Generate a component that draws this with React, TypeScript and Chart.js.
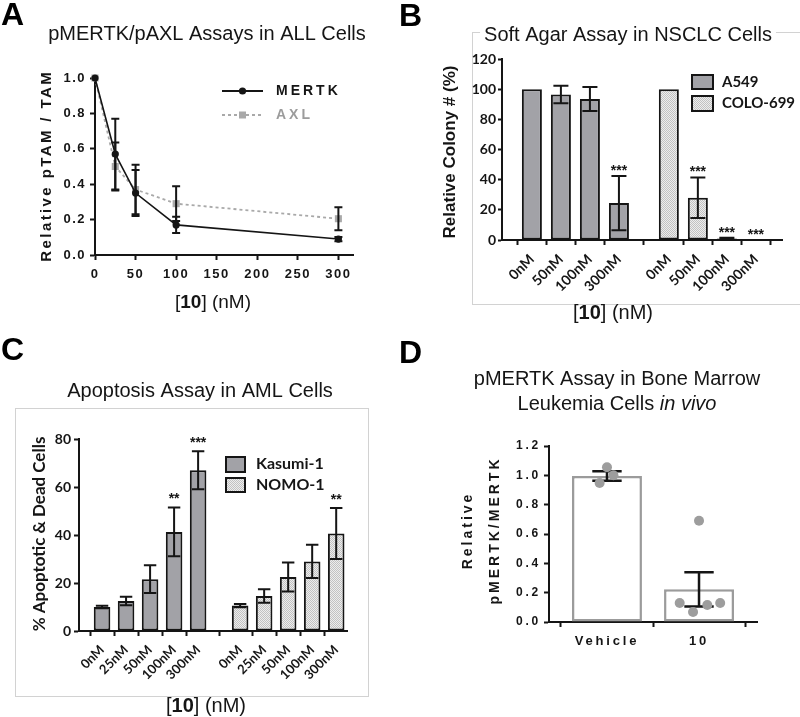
import React, { useEffect, useRef } from 'react';
import { Chart, registerables } from 'chart.js';

Chart.register(...registerables);

// ---------------- Panel A : pMERTK / pAXL
const aDoses = [0, 25, 50, 100, 300];
const aSeries = ['MERTK', 'AXL'];
const aMertk = [1.0, 0.57, 0.35, 0.17, 0.09];
const aMertkErr = [0, 0.2, 0.13, 0.046, 0.012];
const aAxl = [1.0, 0.5, 0.37, 0.29, 0.205];
const aAxlErr = [0, 0.135, 0.14, 0.098, 0.065];

// ---------------- Panel B : soft agar
const bDoses = ['0nM', '50nM', '100nM', '300nM'];
const bCells = ['A549', 'COLO-699'];
const bA549 = [100, 96.5, 93.5, 24.5];
const bA549Err = [0, 5.8, 8, 18];
const bA549Sig = ['', '', '', '***'];
const bColo = [100, 28, 1, 0];
const bColoErr = [0, 13.4, 0.5, 0];
const bColoSig = ['', '***', '***', '***'];

// ---------------- Panel C : apoptosis
const cDoses = ['0nM', '25nM', '50nM', '100nM', '300nM'];
const cCells = ['Kasumi-1', 'NOMO-1'];
const cKasumi = [10, 12.5, 21.6, 41.3, 67];
const cKasumiErr = [0.5, 1.8, 5.8, 10.2, 7.9];
const cKasumiSig = ['', '', '', '**', '***'];
const cNomo = [10.6, 14.6, 22.5, 29, 40.6];
const cNomoErr = [0.7, 2.8, 6, 6.9, 10.6];
const cNomoSig = ['', '', '', '', '**'];

// ---------------- Panel D : in vivo
const dGroups = ['Vehicle', '10'];
const dMeans = [0.995, 0.223];
const dSem = [0.032, 0.117];
const dVehiclePts = [1.055, 1.0, 0.948];
const dVehicleJitter = [0, 0.07, -0.08];
const d10Pts = [0.69, 0.13, 0.068, 0.116, 0.13];
const d10Jitter = [0, -0.21, -0.065, 0.09, 0.23];

// ---------------- styling
const ARIAL = '"Liberation Sans", Arial, Helvetica, sans-serif';
const LATO = 'Lato, "Liberation Sans", Arial, sans-serif';
const INK = '#151515';
const BAR_GRAY = '#a2a2a7';
const AXL_GRAY = '#a9a9a9';
const DOT_GRAY = '#9d9d9d';
const fnt = (style: string, size: number, fam: string) => `${style} ${size}px ${fam}`;

function makeDots(): CanvasPattern | string {
  const c = document.createElement('canvas');
  c.width = 2;
  c.height = 2;
  const g = c.getContext('2d');
  if (!g) return '#d8d8d8';
  g.fillStyle = '#ededed';
  g.fillRect(0, 0, 2, 2);
  g.fillStyle = '#c2c2c2';
  g.fillRect(0, 0, 1, 1);
  g.fillRect(1, 1, 1, 1);
  return g.createPattern(c, 'repeat') || '#d8d8d8';
}

// ---------------- plugins
type Part = { t: string; f: string; c?: string };
type TextItem = { x: number; y: number; rot?: number; sp?: number; bg?: string; parts: Part[] };

function textsPlugin(items: TextItem[]) {
  return {
    id: 'panelTexts',
    afterDraw(chart: any) {
      const ctx = chart.ctx;
      for (const it of items) {
        ctx.save();
        ctx.translate(it.x, it.y);
        if (it.rot) ctx.rotate(it.rot);
        ctx.textBaseline = 'middle';
        ctx.textAlign = 'left';
        ctx.letterSpacing = (it.sp || 0) + 'px';
        const ws = it.parts.map((p) => {
          ctx.font = p.f;
          return ctx.measureText(p.t).width;
        });
        const total = ws.reduce((a, b) => a + b, 0) - (it.sp || 0);
        let x = -total / 2;
        if (it.bg) {
          ctx.fillStyle = it.bg;
          ctx.fillRect(x - 4, -12, total + 8, 24);
        }
        it.parts.forEach((p, i) => {
          ctx.font = p.f;
          ctx.fillStyle = p.c || INK;
          ctx.fillText(p.t, x, 0);
          x += ws[i];
        });
        ctx.restore();
      }
    },
  };
}

function spacingPlugin(px: number) {
  return {
    id: 'tickSpacing',
    beforeDraw(chart: any) {
      chart.ctx.letterSpacing = px + 'px';
    },
    afterDraw(chart: any) {
      chart.ctx.letterSpacing = '0px';
    },
  };
}

type ErrSet = {
  ds: number;
  err: number[];
  capPx?: number;
  capRatio?: number;
  lw: number;
  color: string;
  sig?: string[];
  sigFont?: string;
  sigOff?: number;
};

// error bars are drawn right after their own dataset, so later datasets sit on top
function errorBarsPlugin(sets: ErrSet[]) {
  return {
    id: 'errorBars',
    afterDatasetDraw(chart: any, args: any) {
      const ctx = chart.ctx;
      const ys = chart.scales.y;
      for (const s of sets) {
        if (s.ds !== args.index) continue;
        const meta = chart.getDatasetMeta(s.ds);
        const data = chart.data.datasets[s.ds].data;
        meta.data.forEach((el: any, i: number) => {
          const d = data[i];
          const v = typeof d === 'number' ? d : d.y;
          const e = s.err[i] || 0;
          const x = el.x;
          const yTop = ys.getPixelForValue(v + e);
          if (e > 0) {
            const yBot = ys.getPixelForValue(v - e);
            const half = (s.capRatio ? el.width * s.capRatio : s.capPx || 8) / 2;
            ctx.save();
            ctx.strokeStyle = s.color;
            ctx.lineWidth = s.lw;
            ctx.beginPath();
            ctx.moveTo(x, yTop);
            ctx.lineTo(x, yBot);
            ctx.moveTo(x - half, yTop);
            ctx.lineTo(x + half, yTop);
            ctx.moveTo(x - half, yBot);
            ctx.lineTo(x + half, yBot);
            ctx.stroke();
            ctx.restore();
          }
          const label = s.sig ? s.sig[i] : '';
          if (label) {
            ctx.save();
            ctx.letterSpacing = '0px';
            ctx.font = s.sigFont;
            ctx.fillStyle = INK;
            ctx.textAlign = 'center';
            ctx.textBaseline = 'middle';
            ctx.fillText(label, x, yTop - (s.sigOff || 8));
            ctx.restore();
          }
        });
      }
    },
  };
}

function legendPlugin(items: any[]) {
  return {
    id: 'panelLegend',
    afterDraw(chart: any) {
      const ctx = chart.ctx;
      for (const it of items) {
        ctx.save();
        ctx.letterSpacing = '0px';
        if (it.kind === 'line') {
          ctx.strokeStyle = it.color;
          ctx.lineWidth = it.lw;
          ctx.setLineDash(it.dash);
          ctx.beginPath();
          ctx.moveTo(it.x1, it.y);
          ctx.lineTo(it.x2, it.y);
          ctx.stroke();
          ctx.setLineDash([]);
          ctx.fillStyle = it.color;
          const cx = (it.x1 + it.x2) / 2;
          if (it.marker === 'circle') {
            ctx.beginPath();
            ctx.arc(cx, it.y, it.mr, 0, Math.PI * 2);
            ctx.fill();
          } else {
            ctx.fillRect(cx - it.mr, it.y - it.mr, it.mr * 2, it.mr * 2);
          }
        } else {
          ctx.fillStyle = it.fill;
          ctx.fillRect(it.x, it.y, it.w, it.h);
          ctx.strokeStyle = it.stroke;
          ctx.lineWidth = it.lw;
          ctx.strokeRect(it.x, it.y, it.w, it.h);
        }
        ctx.letterSpacing = (it.sp || 0) + 'px';
        ctx.font = it.font;
        ctx.fillStyle = it.tc;
        ctx.textAlign = 'left';
        ctx.textBaseline = 'middle';
        ctx.fillText(it.text, it.tx, it.ty);
        ctx.restore();
      }
    },
  };
}

// ---------------- shared axis pieces
const gridOpts = (len: number) => ({
  drawOnChartArea: false,
  drawTicks: true,
  tickLength: len,
  tickColor: INK,
  tickWidth: 2,
});
const borderOpts = { display: true, color: INK, width: 2 };
const baseOptions = {
  responsive: false,
  animation: false,
  events: [],
  plugins: { legend: { display: false }, tooltip: { enabled: false }, title: { display: false } },
};
const STAR_FONT = fnt('bold', 14, ARIAL);

// ---------------- chart configs
function configA(): any {
  return {
    type: 'line',
    data: {
      datasets: [
        {
          label: aSeries[0],
          data: aDoses.map((x, i) => ({ x, y: aMertk[i] })),
          borderColor: INK,
          backgroundColor: INK,
          borderWidth: 1.6,
          pointStyle: 'circle',
          pointRadius: 3.6,
          pointBackgroundColor: INK,
          pointBorderColor: INK,
          pointBorderWidth: 0,
          tension: 0,
          clip: false,
        },
        {
          label: aSeries[1],
          data: aDoses.map((x, i) => ({ x, y: aAxl[i] })),
          borderColor: AXL_GRAY,
          backgroundColor: AXL_GRAY,
          borderWidth: 1.8,
          borderDash: [3, 3],
          pointStyle: 'rect',
          pointRadius: 5,
          pointBackgroundColor: AXL_GRAY,
          pointBorderColor: AXL_GRAY,
          pointBorderWidth: 0,
          tension: 0,
          clip: false,
        },
      ],
    },
    options: {
      ...baseOptions,
      layout: { padding: { left: 0, top: 78, right: 47, bottom: 0 } },
      scales: {
        x: {
          type: 'linear',
          min: 0,
          max: 318,
          ticks: {
            stepSize: 50,
            includeBounds: false,
            color: INK,
            font: { family: ARIAL, size: 13, weight: 'bold' },
            padding: 7,
            maxRotation: 0,
          },
          grid: gridOpts(5),
          border: borderOpts,
          afterFit: (s: any) => {
            s.height = 75;
          },
        },
        y: {
          min: 0,
          max: 1,
          ticks: {
            stepSize: 0.2,
            callback: (v: any) => Number(v).toFixed(1),
            color: INK,
            font: { family: ARIAL, size: 13, weight: 'bold' },
            padding: 4,
          },
          grid: gridOpts(5),
          border: borderOpts,
          afterFit: (s: any) => {
            s.width = 95;
          },
        },
      },
    },
    plugins: [
      spacingPlugin(1.5),
      errorBarsPlugin([
        { ds: 0, err: aMertkErr, capPx: 8, lw: 2, color: INK },
        { ds: 1, err: aAxlErr, capPx: 8, lw: 2, color: INK },
      ]),
      legendPlugin([
        { kind: 'line', x1: 222, x2: 263, y: 91, color: INK, lw: 2, dash: [], marker: 'circle', mr: 3.6, text: aSeries[0], tx: 276, ty: 91, font: fnt('bold', 14, ARIAL), tc: INK, sp: 3 },
        { kind: 'line', x1: 222, x2: 263, y: 115, color: AXL_GRAY, lw: 1.8, dash: [3, 3], marker: 'rect', mr: 3.5, text: aSeries[1], tx: 276, ty: 115, font: fnt('bold', 14, ARIAL), tc: '#9c9c9c', sp: 3 },
      ]),
      textsPlugin([
        { x: 207, y: 34, parts: [{ t: 'pMERTK/pAXL Assays in ALL Cells', f: fnt('normal', 20, ARIAL) }] },
        { x: 47, y: 167, rot: -Math.PI / 2, sp: 2.4, parts: [{ t: 'Relative pTAM / TAM', f: fnt('bold', 15, ARIAL) }] },
        {
          x: 213,
          y: 303,
          parts: [
            { t: '[', f: fnt('normal', 19, ARIAL) },
            { t: '10', f: fnt('bold', 19, ARIAL) },
            { t: '] (nM)', f: fnt('normal', 19, ARIAL) },
          ],
        },
      ]),
    ],
  };
}

function groupedBarConfig(opts: {
  doses: string[];
  gap: number;
  s1: number[];
  s2: number[];
  e1: number[];
  e2: number[];
  sig1: string[];
  sig2: string[];
  names: string[];
  dots: any;
  xmin: number;
  xmax: number;
  ymax: number;
  pad: any;
  yWidth: number;
  xHeight: number;
  tickSize: number;
  xTickSize: number;
  yTickLen: number;
  yTickPad: number;
  sigOff: number;
  legend: any[];
  texts: TextItem[];
}): any {
  const n = opts.doses.length;
  const xPos = (g: number, i: number) => g * (n + opts.gap) + i;
  const ticksAt = [...opts.doses.map((_, i) => xPos(0, i)), ...opts.doses.map((_, i) => xPos(1, i))];
  const tickLabels = [...opts.doses, ...opts.doses];
  const common = {
    borderColor: INK,
    borderWidth: 2,
    borderSkipped: false,
    grouped: false,
    barPercentage: 0.69,
    categoryPercentage: 1,
  };
  return {
    type: 'bar',
    data: {
      datasets: [
        { ...common, label: opts.names[0], data: opts.s1.map((y, i) => ({ x: xPos(0, i), y })), backgroundColor: BAR_GRAY },
        { ...common, label: opts.names[1], data: opts.s2.map((y, i) => ({ x: xPos(1, i), y })), backgroundColor: opts.dots },
      ],
    },
    options: {
      ...baseOptions,
      layout: { padding: opts.pad },
      scales: {
        x: {
          type: 'linear',
          min: opts.xmin,
          max: opts.xmax,
          offset: false,
          bounds: 'data',
          afterBuildTicks: (s: any) => {
            s.ticks = ticksAt.map((value) => ({ value }));
          },
          ticks: {
            autoSkip: false,
            minRotation: 45,
            maxRotation: 45,
            callback: (_v: any, i: number) => tickLabels[i],
            color: INK,
            font: { family: LATO, size: opts.xTickSize, weight: 'bold' },
            padding: 6,
          },
          grid: gridOpts(5),
          border: borderOpts,
          afterFit: (s: any) => {
            s.height = opts.xHeight;
          },
        },
        y: {
          min: 0,
          max: opts.ymax,
          ticks: {
            stepSize: 20,
            color: INK,
            font: { family: LATO, size: opts.tickSize, weight: 'bold' },
            padding: opts.yTickPad,
          },
          grid: gridOpts(opts.yTickLen),
          border: borderOpts,
          afterFit: (s: any) => {
            s.width = opts.yWidth;
          },
        },
      },
    },
    plugins: [
      errorBarsPlugin([
        { ds: 0, err: opts.e1, capRatio: 0.75, lw: 2, color: INK, sig: opts.sig1, sigFont: STAR_FONT, sigOff: opts.sigOff },
        { ds: 1, err: opts.e2, capRatio: 0.75, lw: 2, color: INK, sig: opts.sig2, sigFont: STAR_FONT, sigOff: opts.sigOff },
      ]),
      legendPlugin(opts.legend),
      textsPlugin(opts.texts),
    ],
  };
}

const nmTitle = (x: number, y: number, size: number): TextItem => ({
  x,
  y,
  parts: [
    { t: '[', f: fnt('normal', size, ARIAL) },
    { t: '10', f: fnt('bold', size, ARIAL) },
    { t: '] (nM)', f: fnt('normal', size, ARIAL) },
  ],
});

function configB(dots: any): any {
  return groupedBarConfig({
    doses: bDoses,
    gap: 0.72,
    s1: bA549,
    s2: bColo,
    e1: bA549Err,
    e2: bColoErr,
    sig1: bA549Sig,
    sig2: bColoSig,
    names: bCells,
    dots,
    xmin: -1.03,
    xmax: 8.62,
    ymax: 120,
    pad: { left: 0, top: 59, right: 18, bottom: 0 },
    yWidth: 102,
    xHeight: 90,
    tickSize: 14,
    xTickSize: 14,
    yTickLen: 4,
    yTickPad: 2,
    sigOff: 5,
    legend: [
      { kind: 'box', x: 292, y: 75, w: 21, h: 14, fill: BAR_GRAY, stroke: INK, lw: 2, text: bCells[0], tx: 322, ty: 82, font: fnt('bold', 15, LATO), tc: INK },
      { kind: 'box', x: 292, y: 96, w: 21, h: 15, fill: dots, stroke: INK, lw: 2, text: bCells[1], tx: 322, ty: 103, font: fnt('bold', 15, LATO), tc: INK },
    ],
    texts: [
      { x: 228, y: 35, bg: '#ffffff', parts: [{ t: 'Soft Agar Assay in NSCLC Cells', f: fnt('normal', 20, ARIAL) }] },
      { x: 50, y: 152, rot: -Math.PI / 2, parts: [{ t: 'Relative Colony # (%)', f: fnt('bold', 17, ARIAL) }] },
      nmTitle(213, 313, 20),
    ],
  });
}

function configC(dots: any): any {
  return groupedBarConfig({
    doses: cDoses,
    gap: 0.75,
    s1: cKasumi,
    s2: cNomo,
    e1: cKasumiErr,
    e2: cNomoErr,
    sig1: cKasumiSig,
    sig2: cNomoSig,
    names: cCells,
    dots,
    xmin: -0.96,
    xmax: 10.2,
    ymax: 80,
    pad: { left: 0, top: 109, right: 53, bottom: 0 },
    yWidth: 79,
    xHeight: 86,
    tickSize: 14,
    xTickSize: 13,
    yTickLen: 5,
    yTickPad: 3,
    sigOff: 8,
    legend: [
      { kind: 'box', x: 226, y: 127, w: 19, h: 15, fill: BAR_GRAY, stroke: INK, lw: 2, text: cCells[0], tx: 256, ty: 134, font: fnt('bold', 16, LATO), tc: INK },
      { kind: 'box', x: 226, y: 148, w: 19, h: 14, fill: dots, stroke: INK, lw: 2, text: cCells[1], tx: 256, ty: 155, font: fnt('bold', 16, LATO), tc: INK },
    ],
    texts: [
      { x: 200, y: 61, parts: [{ t: 'Apoptosis Assay in AML Cells', f: fnt('normal', 20, ARIAL) }] },
      { x: 40, y: 204, rot: -Math.PI / 2, parts: [{ t: '% Apoptotic & Dead Cells', f: fnt('bold', 17, LATO) }] },
      nmTitle(206, 376, 20),
    ],
  });
}

function configD(): any {
  const pts = [
    ...dVehiclePts.map((y, i) => ({ x: 0 + dVehicleJitter[i], y })),
    ...d10Pts.map((y, i) => ({ x: 1 + d10Jitter[i], y })),
  ];
  return {
    type: 'bar',
    data: {
      datasets: [
        {
          type: 'bar',
          label: 'Mean',
          order: 2,
          data: dGroups.map((_, i) => ({ x: i, y: dMeans[i] })),
          backgroundColor: '#ffffff',
          borderColor: '#9b9b9b',
          borderWidth: 2.5,
          borderSkipped: false,
          grouped: false,
          barPercentage: 0.76,
          categoryPercentage: 1,
        },
        {
          type: 'scatter',
          label: 'Mice',
          order: 1,
          data: pts,
          pointRadius: 5,
          pointBackgroundColor: DOT_GRAY,
          pointBorderWidth: 0,
          showLine: false,
          clip: false,
        },
      ],
    },
    options: {
      ...baseOptions,
      layout: { padding: { left: 0, top: 116, right: 43, bottom: 0 } },
      scales: {
        x: {
          type: 'linear',
          min: -0.63,
          max: 1.63,
          offset: false,
          bounds: 'data',
          afterBuildTicks: (s: any) => {
            s.ticks = dGroups.map((_, i) => ({ value: i }));
          },
          ticks: {
            autoSkip: false,
            maxRotation: 0,
            callback: (_v: any, i: number) => dGroups[i],
            color: INK,
            font: { family: ARIAL, size: 13, weight: 'bold' },
            padding: 7,
          },
          grid: gridOpts(5),
          border: borderOpts,
          afterFit: (s: any) => {
            s.height = 95;
          },
        },
        y: {
          min: 0,
          max: 1.2,
          ticks: {
            stepSize: 0.2,
            callback: (v: any) => Number(v).toFixed(1),
            color: INK,
            font: { family: ARIAL, size: 12, weight: 'bold' },
            padding: 3,
          },
          grid: gridOpts(5),
          border: borderOpts,
          afterFit: (s: any) => {
            s.width = 149;
          },
        },
      },
    },
    plugins: [
      spacingPlugin(2.8),
      errorBarsPlugin([{ ds: 0, err: dSem, capRatio: 0.42, lw: 2.5, color: INK }]),
      textsPlugin([
        { x: 217, y: 49, parts: [{ t: 'pMERTK Assay in Bone Marrow', f: fnt('normal', 20, ARIAL) }] },
        {
          x: 217,
          y: 74,
          parts: [
            { t: 'Leukemia Cells ', f: fnt('normal', 20, ARIAL) },
            { t: 'in vivo', f: fnt('italic', 20, ARIAL) },
          ],
        },
        { x: 68, y: 202, rot: -Math.PI / 2, sp: 3, parts: [{ t: 'Relative', f: fnt('bold', 14, ARIAL) }] },
        { x: 95, y: 202, rot: -Math.PI / 2, sp: 3, parts: [{ t: 'pMERTK/MERTK', f: fnt('bold', 14, ARIAL) }] },
      ]),
    ],
  };
}

// ---------------- components
function Panel({ left, top, width, height, make }: { left: number; top: number; width: number; height: number; make: () => any }) {
  const ref = useRef<HTMLCanvasElement>(null);
  useEffect(() => {
    if (!ref.current) return;
    const chart = new Chart(ref.current, make());
    return () => chart.destroy();
  }, []);
  return (
    <canvas
      ref={ref}
      width={width}
      height={height}
      style={{ position: 'absolute', left, top, width, height }}
    />
  );
}

const letterStyle = (left: number, top: number): React.CSSProperties => ({
  position: 'absolute',
  left,
  top,
  font: `bold 32px ${ARIAL}`,
  lineHeight: '32px',
  color: '#000',
});

export default function App() {
  const dotsRef = useRef<any>(null);
  if (!dotsRef.current && typeof document !== 'undefined') dotsRef.current = makeDots();
  const dots = dotsRef.current;
  return (
    <div style={{ position: 'absolute', left: 0, top: 0, width: 800, height: 717, background: '#fff', overflow: 'hidden' }}>
      <div style={{ position: 'absolute', left: 472, top: 32, width: 340, height: 271, border: '1px solid #d2d2d2' }} />
      <div style={{ position: 'absolute', left: 15, top: 408, width: 352, height: 287, border: '1px solid #d2d2d2' }} />
      <Panel left={0} top={0} width={400} height={330} make={configA} />
      <Panel left={400} top={0} width={400} height={330} make={() => configB(dots)} />
      <Panel left={0} top={330} width={400} height={387} make={() => configC(dots)} />
      <Panel left={400} top={330} width={400} height={387} make={configD} />
      <div style={letterStyle(1, -2)}>A</div>
      <div style={letterStyle(399, -1)}>B</div>
      <div style={letterStyle(1, 333)}>C</div>
      <div style={letterStyle(399, 336)}>D</div>
    </div>
  );
}
